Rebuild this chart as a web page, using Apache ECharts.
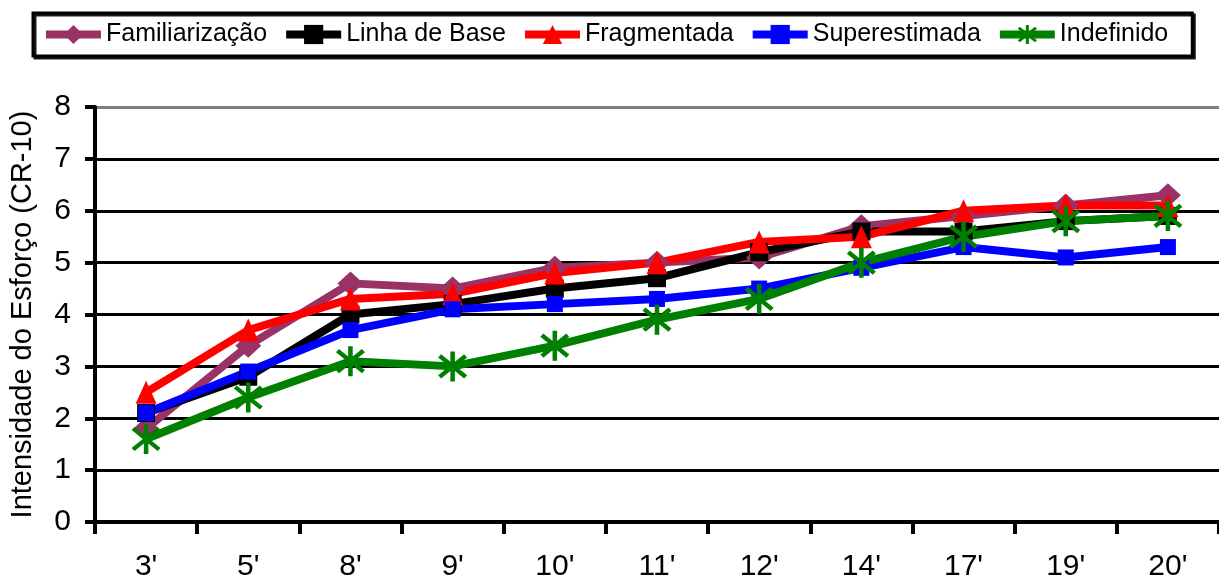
<!DOCTYPE html>
<html>
<head>
<meta charset="utf-8">
<title>Intensidade do Esforço (CR-10)</title>
<script src="https://cdn.jsdelivr.net/npm/echarts@6/dist/echarts.min.js"></script>
<style>
  html, body { margin: 0; padding: 0; background: #fff; }
  #chart { width: 1219px; height: 582px; }
</style>
</head>
<body>
<div id="chart"></div>
<script>
// Time points (minutes) and perceived effort per condition
const categories = ["3'", "5'", "8'", "9'", "10'", "11'", "12'", "14'", "17'", "19'", "20'"];
const familiarizacao = [1.8, 3.4, 4.6, 4.5, 4.9, 5.0, 5.1, 5.7, 5.9, 6.1, 6.3];
const linhaDeBase    = [2.1, 2.8, 4.0, 4.2, 4.5, 4.7, 5.2, 5.6, 5.6, 5.8, 5.9];
const fragmentada    = [2.5, 3.7, 4.3, 4.4, 4.8, 5.0, 5.4, 5.5, 6.0, 6.1, 6.1];
const superestimada  = [2.1, 2.9, 3.7, 4.1, 4.2, 4.3, 4.5, 4.9, 5.3, 5.1, 5.3];
const indefinido     = [1.6, 2.4, 3.1, 3.0, 3.4, 3.9, 4.3, 5.0, 5.5, 5.8, 5.9];
const yTicks = [0, 1, 2, 3, 4, 5, 6, 7, 8];

const FONT = 'Liberation Sans, Arial, sans-serif';

// Six-armed asterisk marker
const asterisk = 'path://M43 0L57 0L57 100L43 100Z' +
  'M14.6 9.74L94.6 79.74L85.4 90.26L5.4 20.26Z' +
  'M85.4 9.74L94.6 20.26L14.6 90.26L5.4 79.74Z';

function lineSeries(name, data, color, symbol, size) {
  return {
    name: name,
    type: 'line',
    data: data,
    symbol: symbol,
    symbolSize: size,
    showAllSymbol: true,
    lineStyle: { color: color, width: 8 },
    itemStyle: { color: color },
    emphasis: { disabled: true },
    z: 3
  };
}

const chart = echarts.init(document.getElementById('chart'), null, { renderer: 'canvas' });

chart.setOption({
  animation: false,
  backgroundColor: '#ffffff',
  textStyle: { fontFamily: FONT },
  legend: {
    left: 33,
    top: 13,
    padding: [9, 24, 9, 9],
    itemWidth: 55,
    itemHeight: 24,
    itemGap: 15,
    borderColor: '#000',
    borderWidth: 3,
    backgroundColor: '#fff',
    shadowColor: 'rgba(0,0,0,0.9)',
    shadowOffsetX: 2,
    shadowOffsetY: 2,
    shadowBlur: 0,
    lineStyle: { width: 8 },
    textStyle: { fontFamily: FONT, fontSize: 25, color: '#000' },
    selectedMode: false
  },
  grid: { left: 95, right: -9, top: 107, bottom: 58 },
  xAxis: {
    type: 'category',
    data: categories,
    boundaryGap: true,
    axisLine: { lineStyle: { color: '#000', width: 4 } },
    axisTick: { show: true, length: 12, lineStyle: { color: '#000', width: 4 } },
    axisLabel: { fontFamily: FONT, fontSize: 30, color: '#000', margin: 30 },
    splitLine: { show: false }
  },
  yAxis: {
    type: 'value',
    min: yTicks[0],
    max: yTicks[yTicks.length - 1],
    interval: 1,
    name: 'Intensidade do Esforço (CR-10)',
    nameLocation: 'middle',
    nameRotate: 90,
    nameGap: 58,
    nameTextStyle: { fontFamily: FONT, fontSize: 29, color: '#000' },
    axisLine: { show: true, lineStyle: { color: '#000', width: 4 } },
    axisTick: { show: true, length: 10, lineStyle: { color: '#000', width: 4 } },
    axisLabel: { fontFamily: FONT, fontSize: 30, color: '#000', margin: 24 },
    splitLine: {
      show: true,
      lineStyle: {
        color: ['#000', '#000', '#000', '#000', '#000', '#000', '#000', '#000', '#808080'],
        width: 3
      }
    }
  },
  series: [
    lineSeries('Familiarização', familiarizacao, '#993366', 'diamond', [26, 24]),
    lineSeries('Linha de Base', linhaDeBase, '#000000', 'rect', 18),
    lineSeries('Fragmentada', fragmentada, '#ff0000', 'triangle', [21, 23]),
    lineSeries('Superestimada', superestimada, '#0000ff', 'rect', 16),
    lineSeries('Indefinido', indefinido, '#008000', asterisk, [29, 30])
  ]
});
</script>
</body>
</html>
